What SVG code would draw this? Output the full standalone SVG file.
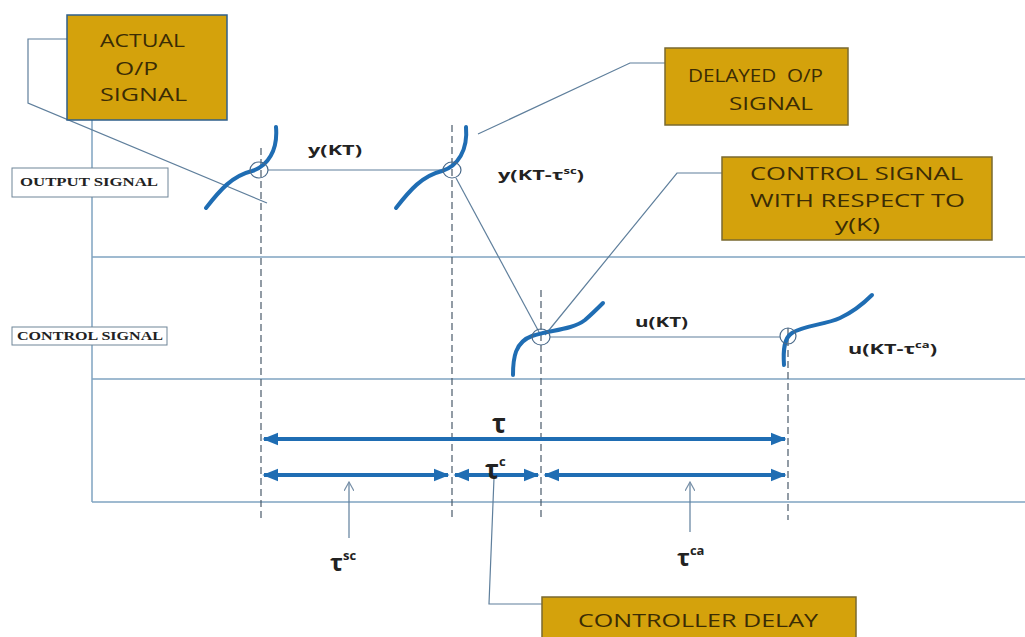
<svg xmlns="http://www.w3.org/2000/svg" width="1025" height="637" viewBox="0 0 1025 637">
<style>
.frame{stroke:#7fa3c0;stroke-width:1.5;fill:none}
.thin{stroke:#5f7f9c;stroke-width:1.2;fill:none}
.dash{stroke:#4a5a6a;stroke-width:1.2;stroke-dasharray:7 4;fill:none}
.curve{stroke:#1f6db3;stroke-width:4;fill:none;stroke-linecap:round}
.circ{stroke:#4a6a8a;stroke-width:1.2;fill:none}
.arr{stroke:#1f6db3;stroke-width:4;fill:none}
.box{fill:#d4a20c;stroke:#7a6a30;stroke-width:1.5}
.bt{font-family:'Open Sans','Liberation Sans',sans-serif;font-size:19px;fill:#3b2c05}
.lab{font-family:'Open Sans','Liberation Sans',sans-serif;font-size:15px;font-weight:bold;fill:#222}
.sig{font-family:'Liberation Serif',serif;font-size:12px;font-weight:bold;fill:#222}
.sigbox{fill:#fff;stroke:#6f8598;stroke-width:1}
.tau{font-family:'Open Sans','Liberation Sans',sans-serif;font-weight:bold;fill:#222}
</style>
<defs>
<marker id="ah" viewBox="0 0 10 10" refX="9" refY="5" markerWidth="4" markerHeight="4" orient="auto-start-reverse" markerUnits="strokeWidth">
<path d="M0,1 L10,5 L0,9 z" fill="#1f6db3"/>
</marker>
<marker id="sa" viewBox="0 0 10 10" refX="9" refY="5" markerWidth="10" markerHeight="10" orient="auto" markerUnits="userSpaceOnUse">
<path d="M0,0 L9,5 L0,10" fill="none" stroke="#7890a8" stroke-width="1.2"/>
</marker>
</defs>
<rect width="1025" height="637" fill="#fff"/>

<g id="frame">
<line class="frame" x1="92" y1="120" x2="92" y2="502"/>
<line class="frame" x1="92" y1="257" x2="1025" y2="257"/>
<line class="frame" x1="92" y1="379" x2="1025" y2="379"/>
<line class="frame" x1="92" y1="502" x2="1025" y2="502"/>
<line class="dash" x1="261" y1="148" x2="261" y2="520" stroke-dasharray="8 4 2 4"/>
<line class="dash" x1="452" y1="125" x2="452" y2="520"/>
<line class="dash" x1="541" y1="290" x2="541" y2="520"/>
<line class="dash" x1="788" y1="328" x2="788" y2="520"/>
</g>

<g id="output-signal-label">
<rect class="sigbox" x="12" y="168" width="156" height="29"/>
<text class="sig" x="20" y="186" textLength="138" lengthAdjust="spacingAndGlyphs">OUTPUT SIGNAL</text>
</g>
<g id="control-signal-label">
<rect class="sigbox" x="12" y="327" width="155" height="18"/>
<text class="sig" x="17" y="340" textLength="146" lengthAdjust="spacingAndGlyphs">CONTROL SIGNAL</text>
</g>

<g id="connectors">
<polyline class="thin" points="67,39 28,39 28,103 267,203"/>
<polyline class="thin" points="478,134 630,63 665,63"/>
<polyline class="thin" points="545,335 677,173 722,173"/>
<line class="thin" x1="268" y1="170" x2="445" y2="170"/>
<line class="thin" x1="456" y1="178" x2="539" y2="332"/>
<line class="thin" x1="550" y1="337" x2="780" y2="337"/>
<polyline class="thin" points="494,478 489,604 542,604"/>
<line class="thin" x1="349" y1="538" x2="349" y2="482" marker-end="url(#sa)"/>
<line class="thin" x1="690" y1="532" x2="690" y2="482" marker-end="url(#sa)"/>
</g>

<g id="signals">
<path class="curve" d="M206,208 C220,190 232,176 252,171 C268,166 278,150 276,127"/>
<ellipse class="circ" cx="259" cy="170" rx="9" ry="8"/>
<path class="curve" d="M396,208 C410,190 422,176 442,171 C458,166 468,150 466,127"/>
<ellipse class="circ" cx="452" cy="170" rx="9" ry="8"/>
<path class="curve" d="M513,375 C513,358 515,342 532,336 C550,330 572,330 585,320 C592,314 598,308 603,303"/>
<ellipse class="circ" cx="541" cy="337" rx="9" ry="8"/>
<path class="curve" d="M784,365 C783,350 784,338 792,333 C805,325 825,325 840,318 C855,311 865,302 872,295"/>
<ellipse class="circ" cx="788" cy="336" rx="8" ry="8"/>
<text class="lab" x="308" y="155" textLength="54" lengthAdjust="spacingAndGlyphs">y(KT)</text>
<text class="lab" x="498" y="180" textLength="86" lengthAdjust="spacingAndGlyphs">y(KT-τ<tspan font-size="9" dy="-6">sc</tspan><tspan dy="6">)</tspan></text>
<text class="lab" x="635" y="327" textLength="53" lengthAdjust="spacingAndGlyphs">u(KT)</text>
<text class="lab" x="848" y="354" textLength="89" lengthAdjust="spacingAndGlyphs">u(KT-τ<tspan font-size="9" dy="-6">ca</tspan><tspan dy="6">)</tspan></text>
</g>

<g id="delay-arrows">
<line class="arr" x1="264" y1="439" x2="785" y2="439" marker-start="url(#ah)" marker-end="url(#ah)"/>
<line class="arr" x1="264" y1="475" x2="448" y2="475" marker-start="url(#ah)" marker-end="url(#ah)"/>
<line class="arr" x1="455" y1="475" x2="538" y2="475" marker-start="url(#ah)" marker-end="url(#ah)"/>
<line class="arr" x1="545" y1="475" x2="785" y2="475" marker-start="url(#ah)" marker-end="url(#ah)"/>
<text class="tau" x="499" y="433" font-size="26" text-anchor="middle">τ</text>
<text class="tau" x="485" y="479" font-size="26">τ<tspan font-size="13" dy="-13">c</tspan></text>
<text class="tau" x="330" y="571" font-size="24">τ<tspan font-size="13" dy="-11">sc</tspan></text>
<text class="tau" x="677" y="566" font-size="24">τ<tspan font-size="13" dy="-11">ca</tspan></text>
</g>

<g id="actual-op-signal">
<rect class="box" x="67" y="15" width="160" height="105" style="stroke:#2f5f8a"/>
<text class="bt" x="100" y="47" textLength="85" lengthAdjust="spacingAndGlyphs">ACTUAL</text>
<text class="bt" x="115" y="75" textLength="43" lengthAdjust="spacingAndGlyphs">O/P</text>
<text class="bt" x="100" y="101" textLength="87" lengthAdjust="spacingAndGlyphs">SIGNAL</text>
</g>
<g id="delayed-op-signal">
<rect class="box" x="665" y="48" width="183" height="77"/>
<text class="bt" x="688" y="82" textLength="135" lengthAdjust="spacingAndGlyphs" xml:space="preserve">DELAYED  O/P</text>
<text class="bt" x="729" y="110" textLength="84" lengthAdjust="spacingAndGlyphs">SIGNAL</text>
</g>
<g id="control-signal-box">
<rect class="box" x="722" y="157" width="270" height="83"/>
<text class="bt" x="750" y="180" textLength="213" lengthAdjust="spacingAndGlyphs">CONTROL SIGNAL</text>
<text class="bt" x="750" y="207" textLength="215" lengthAdjust="spacingAndGlyphs">WITH RESPECT TO</text>
<text class="bt" x="835" y="231" textLength="45" lengthAdjust="spacingAndGlyphs">y(K)</text>
</g>
<g id="controller-delay">
<rect class="box" x="542" y="597" width="314" height="45"/>
<text class="bt" x="578" y="627" textLength="240" lengthAdjust="spacingAndGlyphs">CONTROLLER DELAY</text>
</g>
</svg>
